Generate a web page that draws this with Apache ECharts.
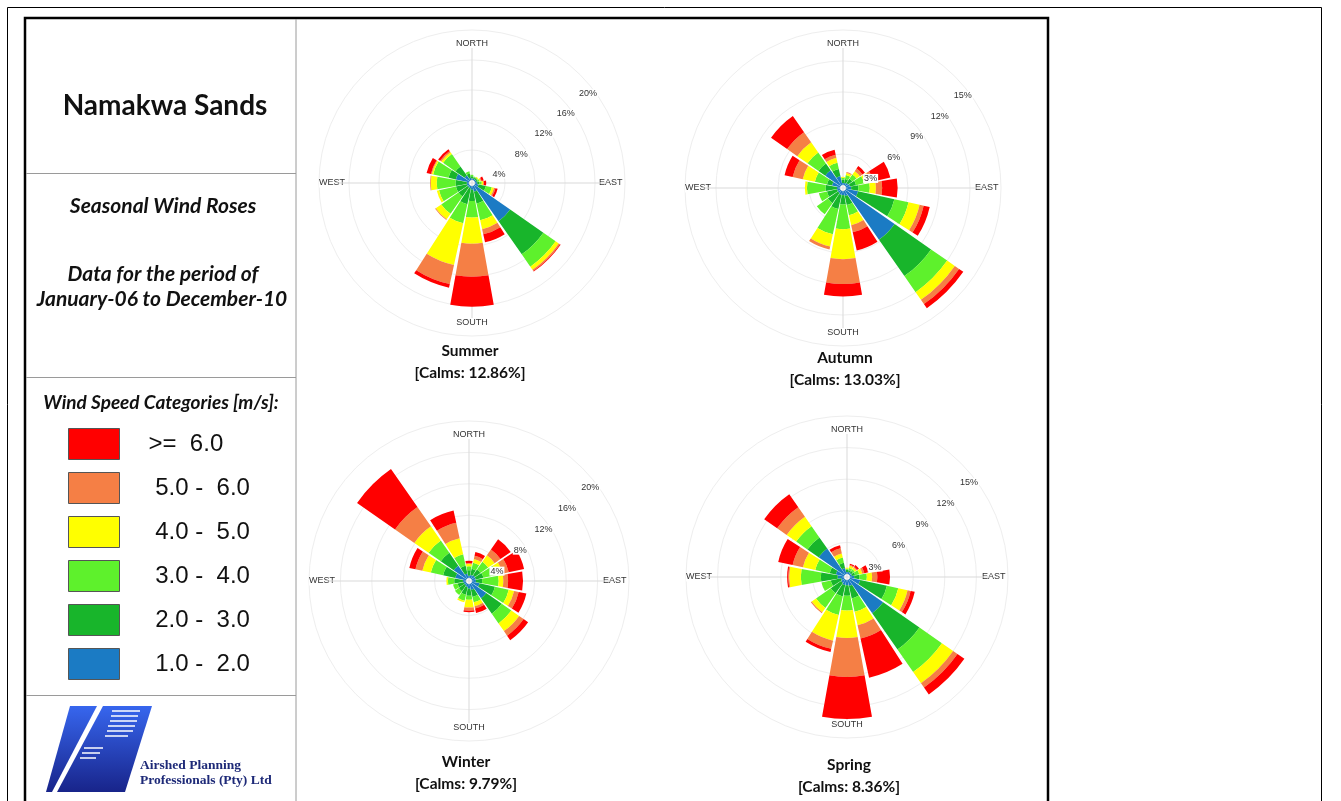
<!DOCTYPE html>
<html>
<head>
<meta charset="utf-8">
<title>Namakwa Sands - Seasonal Wind Roses</title>
<script src="https://cdn.jsdelivr.net/npm/echarts@6/dist/echarts.min.js"></script>
<style>
html, body { margin: 0; padding: 0; background: #fff; }
#chart { width: 1341px; height: 801px; }
</style>
</head>
<body>
<div id="chart"></div>
<script>
var directions = ['N','NNE','NE','ENE','E','ESE','SE','SSE','S','SSW','SW','WSW','W','WNW','NW','NNW'];
var speedClasses = ['1.0 - 2.0','2.0 - 3.0','3.0 - 4.0','4.0 - 5.0','5.0 - 6.0','>= 6.0'];
var speedColors = ['#1b7bc4','#18b52b','#5ef12c','#ffff00','#f57f45','#ff0000'];
var seasons = ['Summer','Autumn','Winter','Spring'];
var calms = ['12.86','13.03','9.79','8.36'];
var ringMax = [20, 15, 20, 15];
var ringStep = [4, 3, 4, 3];

// frequency (%) per speed class (rows, same order as speedClasses) and direction (columns)
var summerFreq = [
	[0.2,0.2,0.2,0.2,0.3,0.5,5.8,0.8,0.5,0.3,0.3,0.3,0.3,1.8,0.8,0.3],
	[0.3,0.2,0.2,0.2,0.3,1.0,5.4,1.6,1.5,2.2,1.5,1.5,1.5,1.0,1.5,0.6],
	[0.2,0.1,0.1,0.2,0.3,0.8,2.0,2.3,2.2,2.6,2.8,2.3,2.5,2.1,2.0,0.3],
	[0,0,0.1,0.2,0.2,0.3,0.5,1.2,3.5,5.7,0.9,0.3,0.8,0.2,0.3,0],
	[0,0,0,0.1,0.1,0.2,0.2,0.7,4.4,2.6,0.1,0,0.1,0.1,0.2,0],
	[0,0,0,0.3,0.3,0.3,0.1,1.1,4.0,0.5,0,0,0,0.6,0.3,0]
];
var autumnFreq = [
	[0.2,0.2,0.3,0.4,0.5,1.2,5.8,0.5,0.4,0.4,0.3,0.3,0.3,0.8,1.8,0.9],
	[0.3,0.4,0.5,0.6,0.7,3.6,4.3,0.9,0.9,1.4,1.2,1.0,1.1,0.5,0.8,0.7],
	[0.2,0.4,0.5,0.8,1.1,1.4,1.9,1.0,2.4,2.5,1.3,0.8,1.8,1.2,1.3,0.6],
	[0.1,0.2,0.4,0.6,0.6,1.1,0.9,1.0,2.9,1.2,0,0,0.2,1.2,1.2,0.5],
	[0,0.1,0.3,0.3,0.6,0.4,0.5,0.7,2.4,0.3,0,0,0,1.0,1.2,0.3],
	[0,0,0.3,1.7,1.5,0.6,0.5,1.8,1.2,0,0,0,0,0.8,1.9,0.5]
];
var winterFreq = [
	[0.3,0.4,0.5,0.5,0.5,1.0,2.3,0.8,0.6,0.4,0.3,0.3,0.4,1.4,2.0,0.6],
	[0.7,0.8,0.9,1.0,0.8,2.0,2.4,0.9,0.9,1.0,0.9,0.8,1.1,1.6,2.0,1.0],
	[0.5,0.8,1.2,1.7,2.1,1.8,1.5,0.7,0.5,0.8,0.6,0.6,0.8,1.6,1.9,1.5],
	[0.3,0.5,1.0,0.8,0.6,0.7,1.2,0.5,1.0,0.2,0,0,0.2,1.1,2.2,2.1],
	[0.1,0.4,0.9,0.8,0.6,0.6,0.7,0.3,0.4,0,0,0,0,0.9,3.0,2.0],
	[0.3,0.5,1.6,2.0,1.9,1.0,0.7,0.6,0.2,0,0,0,0,0.8,5.9,1.6]
];
var springFreq = [
	[0.2,0.2,0.2,0.2,0.4,1.0,3.9,0.6,0.5,0.5,0.4,0.3,0.6,0.8,3.0,0.6],
	[0.2,0.2,0.2,0.3,0.5,2.6,4.2,1.2,1.0,1.1,1.2,1.0,1.6,0.6,1.3,0.5],
	[0.1,0.2,0.2,0.4,0.7,1.1,2.6,1.3,1.4,1.8,1.7,0.9,1.9,1.4,1.3,0.5],
	[0.1,0.2,0.2,0.3,0.5,0.9,1.3,1.3,2.6,2.5,0.5,0,1.1,1.2,1.1,0.4],
	[0,0.1,0.1,0.2,0.5,0.3,0.5,1.3,3.7,0.8,0.1,0,0.1,1.0,1.1,0.5],
	[0,0.1,0.2,0.4,1.2,0.4,0.8,3.8,4.0,0.3,0,0,0.1,1.4,1.5,0.3]
];
var seasonFreq = [summerFreq, autumnFreq, winterFreq, springFreq];

// layout of the four roses (px)
var roseCenters = [[472,183],[843,188],[469,581],[847,577]];
var roseRadius = [153,158,160,161];
var titlePos = [[470,351],[845,358],[466,762],[849,765]];
var holeRadius = 3;

var compassNames = {0:'{n|NORTH}', 90:'{h|EAST}', 180:'{s|SOUTH}', 270:'{h|WEST}'};
var dirFont = {fontSize: 9, fontFamily: 'Liberation Sans', color: '#333'};

var polar = [], angleAxis = [], radiusAxis = [], series = [];

seasons.forEach(function(season, s){
	var c = roseCenters[s], R = roseRadius[s], base = s * 3;
	// bars and rings
	polar.push({center: c, radius: [holeRadius, R]});
	angleAxis.push({polarIndex: base, type: 'category', data: directions, startAngle: 101.25, show: false});
	radiusAxis.push({
		polarIndex: base, type: 'value', min: 0, max: ringMax[s], interval: ringStep[s],
		axisLine: {show: false}, axisTick: {show: false}, axisLabel: {show: false},
		splitLine: {show: true, lineStyle: {color: '#eeeeee', width: 1}}
	});
	// compass cross and direction names
	polar.push({center: c, radius: [0, R - 18]});
	angleAxis.push({
		polarIndex: base + 1, type: 'value', min: 0, max: 360, interval: 90, startAngle: 90, clockwise: true,
		axisLine: {show: false}, axisTick: {show: false},
		splitLine: {show: true, lineStyle: {color: '#d9d9d9', width: 1}},
		axisLabel: {
			margin: -8, fontSize: 9, fontFamily: 'Liberation Sans', color: '#333',
			formatter: function(v){ return compassNames[v] || ''; },
			rich: {
				n: Object.assign({padding: [0,0,8,0]}, dirFont),
				s: Object.assign({padding: [8,0,0,0]}, dirFont),
				h: Object.assign({backgroundColor: '#fff'}, dirFont)
			}
		}
	});
	radiusAxis.push({polarIndex: base + 1, type: 'value', show: false});
	// ring labels
	polar.push({center: c, radius: [holeRadius, R]});
	angleAxis.push({polarIndex: base + 2, type: 'value', startAngle: 42, show: false});
	radiusAxis.push({
		polarIndex: base + 2, type: 'value', min: 0, max: ringMax[s], interval: ringStep[s], z: 10,
		axisLine: {show: false}, axisTick: {show: false}, splitLine: {show: false},
		axisLabel: {
			margin: -11, align: 'center', verticalAlign: 'middle', padding: [10,10,0,0],
			formatter: function(v){ return v ? '{p|' + v + '%}' : ''; },
			rich: {p: {fontSize: 9, fontFamily: 'Liberation Sans', color: '#333', backgroundColor: '#fff', padding: [0,1]}}
		}
	});

	speedClasses.forEach(function(name, k){
		series.push({
			type: 'bar', coordinateSystem: 'polar', polarIndex: base, stack: 'rose' + s,
			name: name, data: seasonFreq[s][k], barCategoryGap: '10%',
			itemStyle: {color: speedColors[k]}, silent: true
		});
	});
});

function txt(x, y, text, font, color, align){
	return {type: 'text', x: x, y: y, silent: true,
		style: {text: text, font: font, fill: color || '#111', align: align || 'center', verticalAlign: 'middle'}};
}
function hline(y){
	return {type: 'line', silent: true, shape: {x1: 26, y1: y, x2: 296, y2: y}, style: {stroke: '#9a9a9a', lineWidth: 1}};
}
var logoFill = {type: 'linear', x: 0, y: 0, x2: 0, y2: 1, colorStops: [{offset: 0, color: '#3766ee'}, {offset: 1, color: '#18248a'}]};

var graphics = [
	{type: 'rect', silent: true, shape: {x: 7.5, y: 7.5, width: 1314, height: 830}, style: {fill: 'none', stroke: '#000', lineWidth: 1}},
	{type: 'rect', silent: true, shape: {x: 25, y: 18, width: 1023, height: 830}, style: {fill: 'none', stroke: '#000', lineWidth: 2.5}},
	{type: 'line', silent: true, shape: {x1: 296, y1: 19, x2: 296, y2: 801}, style: {stroke: '#9a9a9a', lineWidth: 1}},
	hline(173.5), hline(377.5), hline(695.5),
	txt(165, 106, 'Namakwa Sands', 'bold 28px Lato'),
	txt(163, 206, 'Seasonal Wind Roses', 'italic bold 21px Lato'),
	txt(163, 274, 'Data for the period of', 'italic bold 21px Lato'),
	txt(162, 299, 'January-06 to December-10', 'italic bold 21px Lato'),
	txt(161, 403, 'Wind Speed Categories [m/s]:', 'italic bold 19px Lato'),
	// logo
	{type: 'polygon', silent: true, shape: {points: [[70,706],[97,706],[52,792],[46,792]]}, style: {fill: logoFill}},
	{type: 'polygon', silent: true, shape: {points: [[103,706],[152,706],[125,792],[57,792]]}, style: {fill: logoFill}},
	txt(140, 766, 'Airshed Planning', 'bold 13.5px "Liberation Serif"', '#1e2a78', 'left'),
	txt(140, 781, 'Professionals (Pty) Ltd', 'bold 13.5px "Liberation Serif"', '#1e2a78', 'left')
];
[[711,112,140],[716,111,138],[721,110,137],[726,108,135],[731,107,133],[736,105,128],[748,84,103],[753,82,100],[758,80,96]].forEach(function(l){
	graphics.push({type: 'line', silent: true, shape: {x1: l[1], y1: l[0], x2: l[2], y2: l[0]}, style: {stroke: '#fff', lineWidth: 1.5}});
});
seasons.forEach(function(season, s){
	graphics.push(txt(titlePos[s][0], titlePos[s][1], season, 'bold 15.5px Lato'));
	graphics.push(txt(titlePos[s][0], titlePos[s][1] + 22, '[Calms: ' + calms[s] + '%]', 'bold 15.5px Lato'));
});

var option = {
	backgroundColor: '#fff',
	animation: false,
	polar: polar,
	angleAxis: angleAxis,
	radiusAxis: radiusAxis,
	legend: {
		orient: 'vertical', left: 68, top: 428, padding: 0,
		itemWidth: 51, itemHeight: 31, itemGap: 12, icon: 'rect',
		selectedMode: false,
		data: speedClasses.slice().reverse(),
		formatter: function(name){
			return name === '>= 6.0' ? '>=  6.0' : ' ' + name.replace(' - ', ' -  ');
		},
		itemStyle: {borderColor: '#555', borderWidth: 1},
		textStyle: {fontFamily: 'Liberation Sans', fontSize: 24, color: '#111', padding: [0,0,0,24]}
	},
	graphic: graphics,
	series: series
};

var myChart = echarts.init(document.getElementById('chart'));
myChart.setOption(option);
</script>
</body>
</html>
